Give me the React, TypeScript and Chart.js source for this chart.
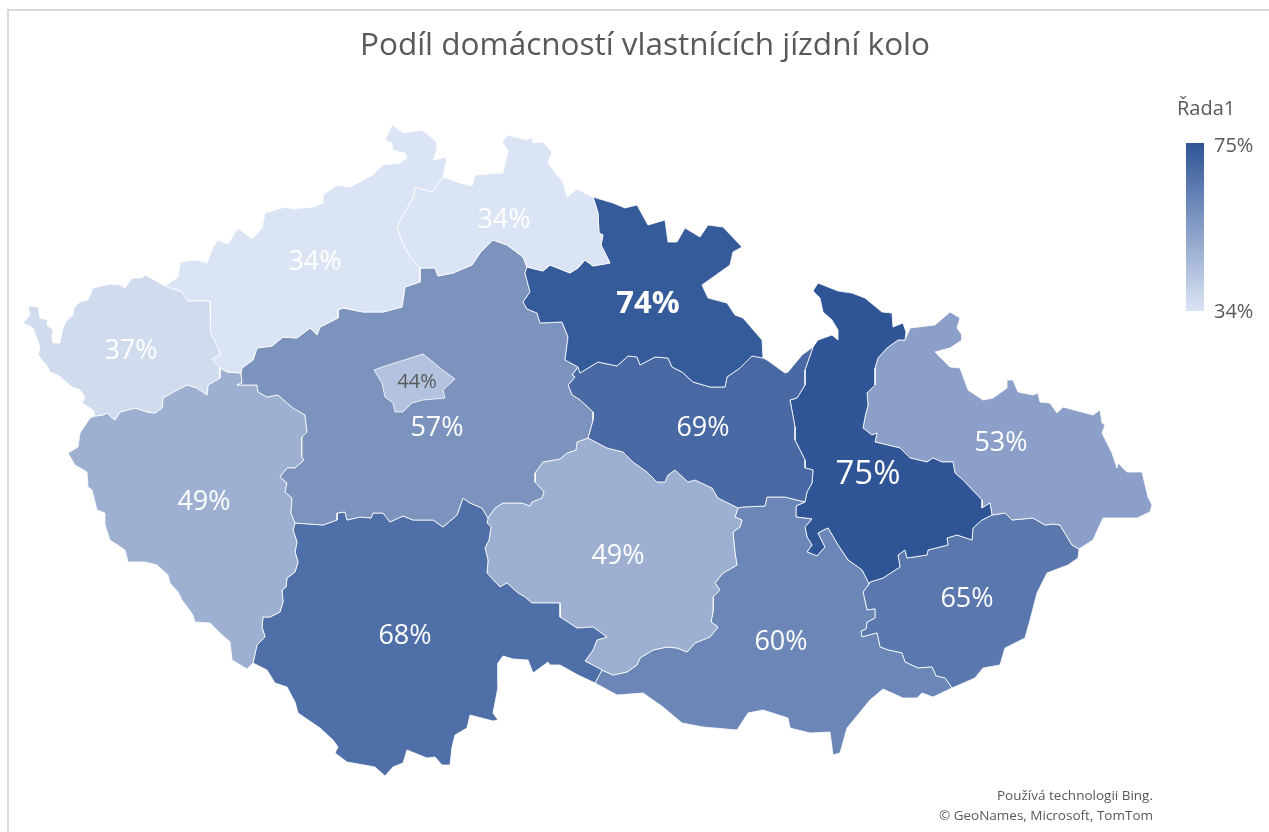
import React, { useEffect, useRef } from "react";
import { Chart, registerables } from "chart.js";

Chart.register(...registerables);

type P = [number, number];

const TITLE = "Podíl domácností vlastnících jízdní kolo";
const LEGEND_TITLE = "Řada1";
const FOOTER = ["Používá technologii Bing.", "© GeoNames, Microsoft, TomTom"];

// Region names and shares (%)
const regions = ["Hlavní město Praha", "Karlovarský", "Ústecký", "Liberecký", "Královéhradecký", "Středočeský", "Pardubický", "Plzeňský", "Jihočeský", "Vysočina", "Jihomoravský", "Olomoucký", "Moravskoslezský", "Zlínský"];
const shares = [44, 37, 34, 34, 74, 57, 69, 49, 68, 49, 60, 75, 53, 65];
const fills = ["#B3C2DE", "#D0DBED", "#DBE4F4", "#DBE4F4", "#355B9A", "#7C93BE", "#4869A3", "#9EB0D2", "#4F6FA8", "#9EB0D2", "#6C86B7", "#2F5597", "#8B9FC9", "#5A78AE"];
const labelAnchors: P[] = [[417, 382], [131, 351], [315, 262], [504, 220], [648, 304], [437, 428], [703, 428], [204, 502], [405, 636], [618, 556], [781, 642], [868, 475], [1001, 443], [967, 599]];
const labelSizes = [20, 27, 27, 27, 31, 27, 27, 27, 27, 27, 27, 33, 27, 27];
const labelWeights = [400, 400, 400, 400, 700, 400, 400, 400, 400, 400, 400, 400, 400, 400];
const labelColors = ["#595959", "#FFFFFF", "#FFFFFF", "#FFFFFF", "#FFFFFF", "#FFFFFF", "#FFFFFF", "#FFFFFF", "#FFFFFF", "#FFFFFF", "#FFFFFF", "#FFFFFF", "#FFFFFF", "#FFFFFF"];

const legendMax = 75;
const legendMin = 34;

// Region boundaries, traced in map units
const kvOut: P[] = [[165,286],[145,275],[142,278],[132,278],[125,288],[120,285],[110,284],[93,288],[88,300],[80,302],[74,308],[73,315],[67,320],[63,328],[62,332],[60,343],[53,343],[52,337],[53,330],[47,325],[48,320],[40,318],[38,307],[28,306],[30,315],[23,323],[33,328],[40,347],[38,355],[48,367],[50,372],[58,375],[72,387],[80,390],[85,397],[82,403],[93,410],[95,416]];
const kvUst: P[] = [[165,286],[182,292],[188,301],[210,301],[211,320],[210,333],[218,347],[220,355],[212,359],[220,368]];
const kvPlz: P[] = [[95,416],[103,415],[107,413],[115,420],[120,412],[135,408],[147,412],[155,413],[162,408],[163,398],[177,390],[187,385],[197,388],[207,395],[208,385],[220,378],[220,368]];
const ustOut: P[] = [[165,286],[178,277],[180,262],[197,260],[207,263],[213,247],[218,240],[228,244],[238,228],[252,239],[262,228],[265,213],[285,207],[293,209],[313,207],[323,203],[323,195],[337,185],[350,187],[373,175],[382,165],[400,163],[407,158],[405,153],[393,150],[392,143],[385,140],[392,125],[403,133],[422,130],[437,142],[437,150],[433,160],[447,157],[443,177],[432,192]];
const ustLib: P[] = [[432,192],[415,187],[413,198],[402,217],[397,227],[402,242],[410,257],[420,268]];
const ustSc: P[] = [[420,268],[420,282],[405,287],[402,307],[383,312],[363,312],[343,308],[338,310],[338,318],[320,327],[317,335],[310,328],[297,338],[283,337],[272,346],[257,348],[253,360],[242,368],[241,373]];
const ustPlz: P[] = [[220,368],[227,372],[241,373]];
const libOut: P[] = [[432,192],[443,177],[460,183],[472,186],[475,175],[503,173],[508,150],[502,142],[508,135],[527,140],[532,137],[533,143],[543,142],[552,152],[548,163],[557,175],[563,182],[567,197],[577,189],[593,197]];
const libHk: P[] = [[593,197],[598,213],[599,233],[603,235],[601,245],[610,263],[593,266],[585,260],[578,268],[570,273],[550,265],[543,271],[527,267]];
const libSc: P[] = [[527,267],[523,257],[507,245],[493,240],[480,253],[472,265],[453,273],[438,276],[435,268],[420,268]];
const hkOut: P[] = [[593,197],[613,203],[625,208],[637,205],[648,225],[665,220],[668,242],[677,242],[685,228],[700,237],[708,225],[723,227],[742,247],[733,252],[730,265],[702,285],[708,298],[727,303],[735,315],[743,318],[762,340],[763,358]];
const hkPard: P[] = [[763,358],[752,356],[740,368],[727,377],[725,387],[710,387],[693,382],[682,372],[672,367],[668,358],[655,357],[640,365],[637,357],[628,356],[617,366],[598,362],[580,373],[578,367]];
const hkSc: P[] = [[527,267],[525,273],[530,292],[523,302],[527,309],[537,313],[540,323],[562,322],[568,337],[565,360],[578,367]];
const scPard: P[] = [[578,367],[572,375],[575,377],[568,385],[572,395],[580,400],[593,412],[593,420],[588,438]];
const scVys: P[] = [[588,438],[577,442],[576,450],[567,453],[560,459],[543,462],[535,473],[535,482],[544,492],[542,498],[532,502],[530,506],[522,503],[503,503],[495,508],[488,518]];
const scJc: P[] = [[295,523],[323,525],[337,520],[337,513],[345,512],[347,520],[360,517],[371,518],[373,513],[383,513],[390,522],[403,516],[413,520],[433,520],[443,527],[457,515],[463,498],[470,503],[482,508],[488,518]];
const scPlz: P[] = [[241,373],[242,383],[237,385],[257,385],[258,392],[267,397],[278,395],[287,403],[293,408],[305,415],[307,432],[302,437],[302,457],[304,460],[295,468],[287,468],[280,477],[287,483],[285,492],[292,498],[291,513],[295,523]];
const plzJc: P[] = [[295,523],[293,530],[297,542],[295,552],[298,562],[295,572],[287,578],[286,587],[282,590],[283,602],[280,612],[270,617],[263,617],[262,627],[265,637],[257,645],[253,663]];
const plzOut: P[] = [[253,663],[247,669],[232,660],[230,642],[220,633],[210,623],[195,622],[193,615],[182,600],[178,592],[170,583],[168,575],[157,565],[145,562],[128,562],[125,550],[110,540],[105,525],[105,513],[97,510],[92,490],[88,487],[87,472],[75,465],[68,453],[78,447],[80,433],[90,418],[95,416]];
const jcOut: P[] = [[595,683],[578,675],[560,665],[550,665],[548,662],[533,673],[528,660],[513,659],[503,656],[498,663],[498,687],[493,713],[498,720],[493,721],[470,715],[467,728],[455,735],[452,747],[450,765],[442,765],[435,757],[427,758],[407,750],[403,763],[393,767],[385,776],[375,767],[347,762],[335,753],[338,747],[333,740],[320,728],[298,713],[295,702],[287,687],[275,683],[267,670],[253,663]];
const jcVys: P[] = [[488,518],[487,523],[491,527],[489,540],[485,548],[488,560],[487,573],[500,587],[507,583],[518,593],[525,597],[532,603],[545,603],[560,603],[560,617],[577,628],[593,627],[607,637],[597,640],[593,650],[585,661],[602,670]];
const jcJm: P[] = [[602,670],[595,683]];
const vysPard: P[] = [[738,508],[718,498],[712,488],[695,480],[688,482],[675,470],[668,475],[665,482],[657,482],[647,472],[633,462],[623,452],[607,448],[588,438]];
const vysJm: P[] = [[738,508],[735,517],[742,520],[740,527],[733,532],[735,553],[737,565],[723,573],[715,583],[720,590],[713,597],[713,612],[711,622],[718,627],[710,637],[695,643],[687,652],[677,648],[667,647],[653,650],[640,658],[637,665],[627,672],[613,675],[602,670]];
const jmOut: P[] = [[595,683],[617,695],[643,693],[663,707],[682,723],[703,727],[737,730],[748,713],[763,710],[788,718],[790,728],[810,733],[830,732],[833,755],[840,753],[847,728],[870,700],[883,689],[903,698],[917,698],[922,693],[933,697],[952,688]];
const jmZl: P[] = [[869,584],[863,592],[867,610],[875,609],[875,618],[867,622],[866,629],[861,631],[862,637],[877,633],[880,647],[888,650],[902,653],[905,662],[918,668],[932,667],[936,676],[945,678],[952,688]];
const jmOl: P[] = [[805,502],[796,506],[796,517],[812,519],[805,527],[807,537],[812,545],[807,552],[817,556],[825,547],[818,533],[828,528],[838,545],[848,560],[862,570],[869,584]];
const pardJm: P[] = [[805,502],[785,497],[767,497],[765,506],[743,507],[738,508]];
const pardOl: P[] = [[813,347],[805,370],[805,385],[797,398],[790,400],[795,427],[795,440],[805,460],[805,468],[813,470],[812,483],[807,492],[805,502]];
const pardOut: P[] = [[763,358],[767,360],[785,373],[788,372],[802,355],[813,347]];
const olOut: P[] = [[813,347],[818,340],[832,335],[838,340],[838,330],[832,320],[823,312],[820,298],[813,291],[818,283],[838,291],[852,293],[865,298],[882,312],[892,313],[893,327],[903,323],[906,332],[905,340]];
const olMs: P[] = [[905,340],[898,340],[887,348],[878,358],[875,368],[875,385],[867,393],[868,405],[865,417],[863,428],[872,435],[877,433],[875,442],[900,448],[910,458],[927,462],[933,458],[942,462],[953,462],[955,473],[963,480],[982,500],[982,508],[990,503],[992,515]];
const olZl: P[] = [[992,515],[982,520],[973,528],[972,540],[957,535],[947,538],[948,545],[928,550],[927,555],[907,558],[905,550],[898,555],[900,567],[883,578],[870,582],[869,584]];
const msOut: P[] = [[905,340],[910,328],[935,325],[950,312],[960,318],[957,328],[962,335],[962,340],[950,348],[935,352],[950,367],[960,368],[968,390],[983,400],[993,398],[1007,388],[1007,380],[1013,380],[1018,392],[1033,395],[1038,393],[1040,402],[1050,403],[1057,413],[1063,407],[1093,415],[1100,410],[1102,423],[1105,425],[1102,433],[1112,453],[1117,468],[1118,463],[1127,472],[1142,472],[1148,497],[1152,505],[1150,512],[1137,518],[1113,518],[1103,518],[1093,540],[1079,549]];
const msZl: P[] = [[992,515],[1005,513],[1012,520],[1033,518],[1045,525],[1053,524],[1060,525],[1072,545],[1079,549]];
const zlOut: P[] = [[1079,549],[1078,558],[1068,565],[1047,573],[1037,593],[1030,620],[1025,638],[1005,648],[1000,665],[983,668],[975,678],[952,688]];
const prahaRing: P[] = [[374,370],[388,365],[398,362],[423,354],[433,362],[440,368],[455,379],[443,390],[445,398],[423,400],[412,403],[403,412],[395,412],[393,403],[385,397],[382,383],[374,370]];

const rev = (e: P[]): P[] => [...e].reverse();
const rings: P[][] = [
  prahaRing,
  [...kvUst, ...rev(kvPlz), ...rev(kvOut)],
  [...ustOut, ...ustLib, ...ustSc, ...rev(ustPlz), ...rev(kvUst)],
  [...libOut, ...libHk, ...libSc, ...rev(ustLib)],
  [...hkOut, ...hkPard, ...rev(hkSc), ...rev(libHk)],
  [...hkSc, ...scPard, ...scVys, ...rev(scJc), ...rev(scPlz), ...rev(ustSc), ...rev(libSc)],
  [...pardOut, ...pardOl, ...pardJm, ...vysPard, ...rev(scPard), ...rev(hkPard)],
  [...kvPlz, ...ustPlz, ...scPlz, ...plzJc, ...plzOut],
  [...scJc, ...jcVys, ...jcJm, ...jcOut, ...rev(plzJc)],
  [...scVys, ...jcVys, ...rev(vysJm), ...vysPard],
  [...jmOut, ...rev(jmZl), ...rev(jmOl), ...pardJm, ...vysJm, ...jcJm],
  [...olOut, ...olMs, ...olZl, ...rev(jmOl), ...rev(pardOl)],
  [...msOut, ...rev(msZl), ...rev(olMs)],
  [...msZl, ...zlOut, ...rev(jmZl), ...rev(olZl)],
];

const FONT = '"Open Sans", "Noto Sans", sans-serif';

const regionFill = {
  id: "regionFill",
  beforeDatasetDraw(chart: any, args: any) {
    const { ctx } = chart;
    const pts = args.meta.data;
    if (!pts.length) return;
    ctx.save();
    ctx.beginPath();
    pts.forEach((p: any, i: number) => (i ? ctx.lineTo(p.x, p.y) : ctx.moveTo(p.x, p.y)));
    ctx.closePath();
    ctx.fillStyle = args.meta._dataset.fillColor;
    ctx.fill();
    ctx.restore();
  },
};

const annotations = {
  id: "annotations",
  afterDatasetsDraw(chart: any) {
    const { ctx, scales } = chart;
    const { x, y } = scales;
    ctx.save();
    ctx.textBaseline = "middle";
    ctx.textAlign = "center";
    shares.forEach((v, i) => {
      ctx.font = `${labelWeights[i]} ${labelSizes[i]}px ${FONT}`;
      ctx.fillStyle = labelColors[i];
      ctx.fillText(`${v}%`, x.getPixelForValue(labelAnchors[i][0]), y.getPixelForValue(labelAnchors[i][1]));
    });

    // Colour scale legend
    const bx = x.getPixelForValue(1186), bw = x.getPixelForValue(1204) - bx;
    const by = y.getPixelForValue(143), bh = y.getPixelForValue(311) - by;
    const g = ctx.createLinearGradient(0, by, 0, by + bh);
    g.addColorStop(0, "#2F5597");
    g.addColorStop(1, "#DBE4F4");
    ctx.fillStyle = g;
    ctx.fillRect(bx, by, bw, bh);

    ctx.fillStyle = "#595959";
    ctx.textAlign = "left";
    ctx.font = `400 20px ${FONT}`;
    ctx.fillText(LEGEND_TITLE, x.getPixelForValue(1177), y.getPixelForValue(109));
    ctx.font = `400 20px ${FONT}`;
    ctx.fillText(`${legendMax}%`, x.getPixelForValue(1214), y.getPixelForValue(146));
    ctx.fillText(`${legendMin}%`, x.getPixelForValue(1214), y.getPixelForValue(312));

    ctx.textAlign = "right";
    ctx.font = `400 13.5px ${FONT}`;
    ctx.fillText(FOOTER[0], x.getPixelForValue(1153), y.getPixelForValue(796));
    ctx.fillText(FOOTER[1], x.getPixelForValue(1153), y.getPixelForValue(816));
    ctx.restore();
  },
};

export default function App() {
  const ref = useRef<HTMLCanvasElement>(null);
  useEffect(() => {
    const chart = new Chart(ref.current!, {
      type: "scatter",
      data: {
        datasets: regions.map((name, i) => ({
          label: name,
          data: [...rings[i], rings[i][0]].map(([x, y]) => ({ x, y })),
          showLine: true,
          fill: false,
          tension: 0,
          pointRadius: 0,
          borderWidth: 1,
          borderColor: "rgba(255,255,255,0.8)",
          borderJoinStyle: "round",
          fillColor: fills[i],
          clip: false,
        })) as any,
      },
      options: {
        responsive: false,
        animation: false,
        layout: { padding: { left: 21 } },
        events: [],
        plugins: {
          legend: { display: false },
          tooltip: { enabled: false },
          title: {
            display: true,
            text: TITLE,
            fullSize: false,
            color: "#595959",
            font: { family: FONT, size: 31.5, weight: "400", lineHeight: 1.2 },
            padding: { top: 27, bottom: 15.2 },
          },
        },
        scales: {
          x: { type: "linear", display: false, min: 21, max: 1269 },
          y: { type: "linear", display: false, min: 80, max: 832, reverse: true },
        },
      },
      plugins: [regionFill, annotations],
    } as any);
    return () => chart.destroy();
  }, []);

  return (
    <div style={{ position: "absolute", left: 0, top: 0, width: 1269, height: 832, overflow: "hidden", background: "#fff" }}>
      <div style={{ position: "absolute", left: 7, top: 9, width: 1262, height: 823, borderTop: "2px solid #D9D9D9", borderLeft: "2px solid #D9D9D9", boxSizing: "border-box" }} />
      <canvas ref={ref} width={1269} height={832} style={{ position: "absolute", left: 0, top: 0, display: "block" }} />
    </div>
  );
}
